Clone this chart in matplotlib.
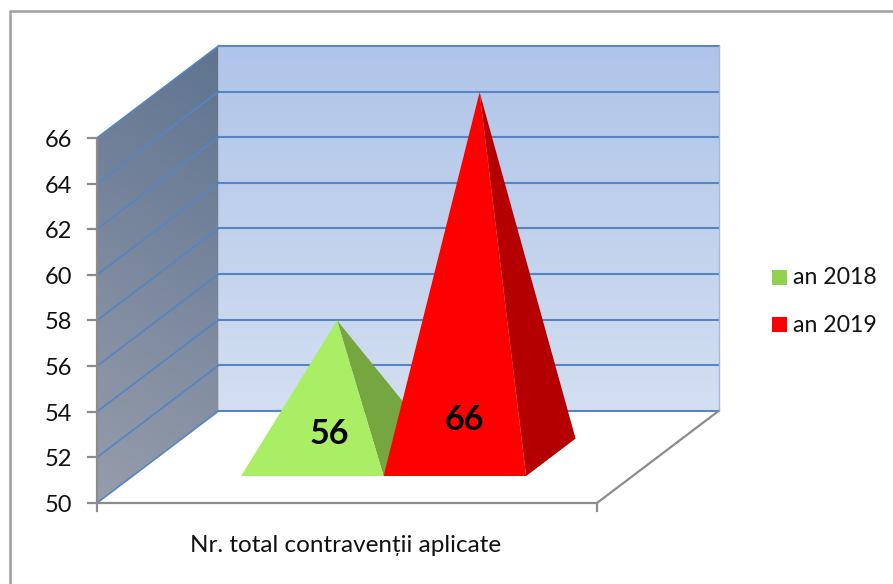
#!/usr/bin/env python3
"""3D style pyramid chart, drawn by hand on a 2D axes (pixel coordinates)."""

import numpy as np
import matplotlib
matplotlib.use("Agg")
import matplotlib.pyplot as plt
from matplotlib.colors import LinearSegmentedColormap
from matplotlib.patches import Polygon, Rectangle

category = "Nr. total contravenții aplicate"
series_names = ["an 2018", "an 2019"]
series_values = [56, 66]
axis_ticks = [50, 52, 54, 56, 58, 60, 62, 64, 66]

plt.rcParams["font.family"] = ["Lato", "DejaVu Sans"]

# projection of the box, in pixels
X0, X1 = 97.0, 597.0
Y_BASE, Y_SCALE = 503.0, 22.82
DX, DY = 121.5, -92.0
AXIS_MIN = axis_ticks[0]
AXIS_MAX = axis_ticks[-1]

# where the pyramids stand on the floor
BAR_LEFT = 0.217
BAR_WIDTH = 0.285
DEPTH_FRONT = 0.293
DEPTH_BACK = 0.70

FACE_COLORS = [("#a9ee64", "#76a63f"), ("#ff0000", "#b40000")]
LEGEND_COLORS = ["#92d050", "#ff0000"]
GRID = "#5585c2"
GREY = "#8c8c8c"


def proj(x, value, depth=0.0):
    """x as fraction of the floor width, depth 0 = front, 1 = back"""
    return (X0 + (X1 - X0) * x + DX * depth,
            Y_BASE - Y_SCALE * (value - AXIS_MIN) + DY * depth)


def gradient_poly(ax, pts, img, cmap, zorder):
    poly = Polygon(pts, closed=True, fc="none", ec="none", transform=ax.transData)
    ax.add_patch(poly)
    xs = [p[0] for p in pts]
    ys = [p[1] for p in pts]
    im = ax.imshow(img, cmap=cmap, vmin=0, vmax=1, aspect="auto", zorder=zorder,
                   extent=(min(xs), max(xs), max(ys), min(ys)), interpolation="bilinear")
    im.set_clip_path(poly)


fig = plt.figure(figsize=(8.93, 5.84), dpi=100)
ax = fig.add_axes([0, 0, 1, 1])

# back wall
back_cmap = LinearSegmentedColormap.from_list("back", ["#afc4e9", "#d3dff1"])
back = [proj(0, AXIS_MIN, 1), proj(1, AXIS_MIN, 1), proj(1, AXIS_MAX, 1), proj(0, AXIS_MAX, 1)]
gradient_poly(ax, back, np.linspace(0, 1, 256).reshape(-1, 1), back_cmap, 1)

# side wall, shading runs a bit diagonally
side_cmap = LinearSegmentedColormap.from_list("side", ["#5f7390", "#969dab"])
side = [proj(0, AXIS_MIN, 0), proj(0, AXIS_MIN, 1), proj(0, AXIS_MAX, 1), proj(0, AXIS_MAX, 0)]
yy, xx = np.mgrid[0:1:128j, 0:1:128j]
gradient_poly(ax, side, np.clip(0.85 * yy + 0.15 * (1 - xx), 0, 1), side_cmap, 1)

# gridlines along side wall and back wall
for t in axis_ticks:
    a, b, c = proj(0, t, 0), proj(0, t, 1), proj(1, t, 1)
    ax.plot([a[0], b[0]], [a[1], b[1]], color=GRID, lw=1.2, zorder=2)
    ax.plot([b[0], c[0]], [b[1], c[1]], color=GRID, lw=1.5, zorder=2)

# right edge of back wall
p, q = proj(1, AXIS_MIN, 1), proj(1, AXIS_MAX, 1)
ax.plot([p[0], q[0]], [p[1], q[1]], color="#a9b8d2", lw=1, zorder=2)

# axis lines and ticks
p0, p1, p2 = proj(0, AXIS_MIN), proj(1, AXIS_MIN), proj(1, AXIS_MIN, 1)
top = proj(0, AXIS_MAX)
ax.plot([p0[0], p1[0], p2[0]], [p0[1], p1[1], p2[1]], color=GREY, lw=1.6, zorder=2)
ax.plot([p0[0], top[0]], [p0[1], top[1]], color=GREY, lw=1.6, zorder=2)
for x in (0, 1):
    px, py = proj(x, AXIS_MIN)
    ax.plot([px, px], [py, py + 8], color=GREY, lw=1.6, zorder=2)
for t in axis_ticks:
    px, py = proj(0, t)
    ax.plot([px - 9, px], [py, py], color=GREY, lw=1.6, zorder=2)
    ax.text(72.5, py + 2.5, str(t), ha="right", va="center", fontsize=17, color="#111111")

# pyramids, the first one sits behind the second
for i, v in enumerate(series_values):
    left = BAR_LEFT + i * BAR_WIDTH
    right = left + BAR_WIDTH
    middle = (left + right) / 2
    apex = proj(middle, v, (DEPTH_FRONT + DEPTH_BACK) / 2)
    front_l = proj(left, AXIS_MIN, DEPTH_FRONT)
    front_r = proj(right, AXIS_MIN, DEPTH_FRONT)
    back_r = proj(right, AXIS_MIN, DEPTH_BACK)
    light, dark = FACE_COLORS[i]
    ax.add_patch(Polygon([front_r, back_r, apex], closed=True, fc=dark, ec="none", zorder=3 + i))
    ax.add_patch(Polygon([front_l, front_r, apex], closed=True, fc=light, ec="none", zorder=3 + i))

# data labels
label_pos = [(329, 434), (464, 420)]
for (lx, ly), v in zip(label_pos, series_values):
    ax.text(lx, ly, str(v), ha="center", va="center", fontsize=24.5, fontweight="bold",
            color="black", zorder=6)

ax.text(345.5, 545, category, ha="center", va="center", fontsize=17.5, color="#111111")

# legend
for i, name in enumerate(series_names):
    ly = 277.5 + i * 47
    ax.add_patch(Rectangle((772, ly - 7.5), 15, 15, fc=LEGEND_COLORS[i], ec="none"))
    ax.text(793, ly + 0.5, name, ha="left", va="center", fontsize=16.6, color="#111111")

# outer frame, only top and left show
ax.plot([9.5, 9.5, 893], [584, 11, 11], color="#a0a0a0", lw=1.8, zorder=2)

ax.set_xlim(0, 893)
ax.set_ylim(584, 0)
ax.axis("off")
fig.savefig("out.png", dpi=100)
